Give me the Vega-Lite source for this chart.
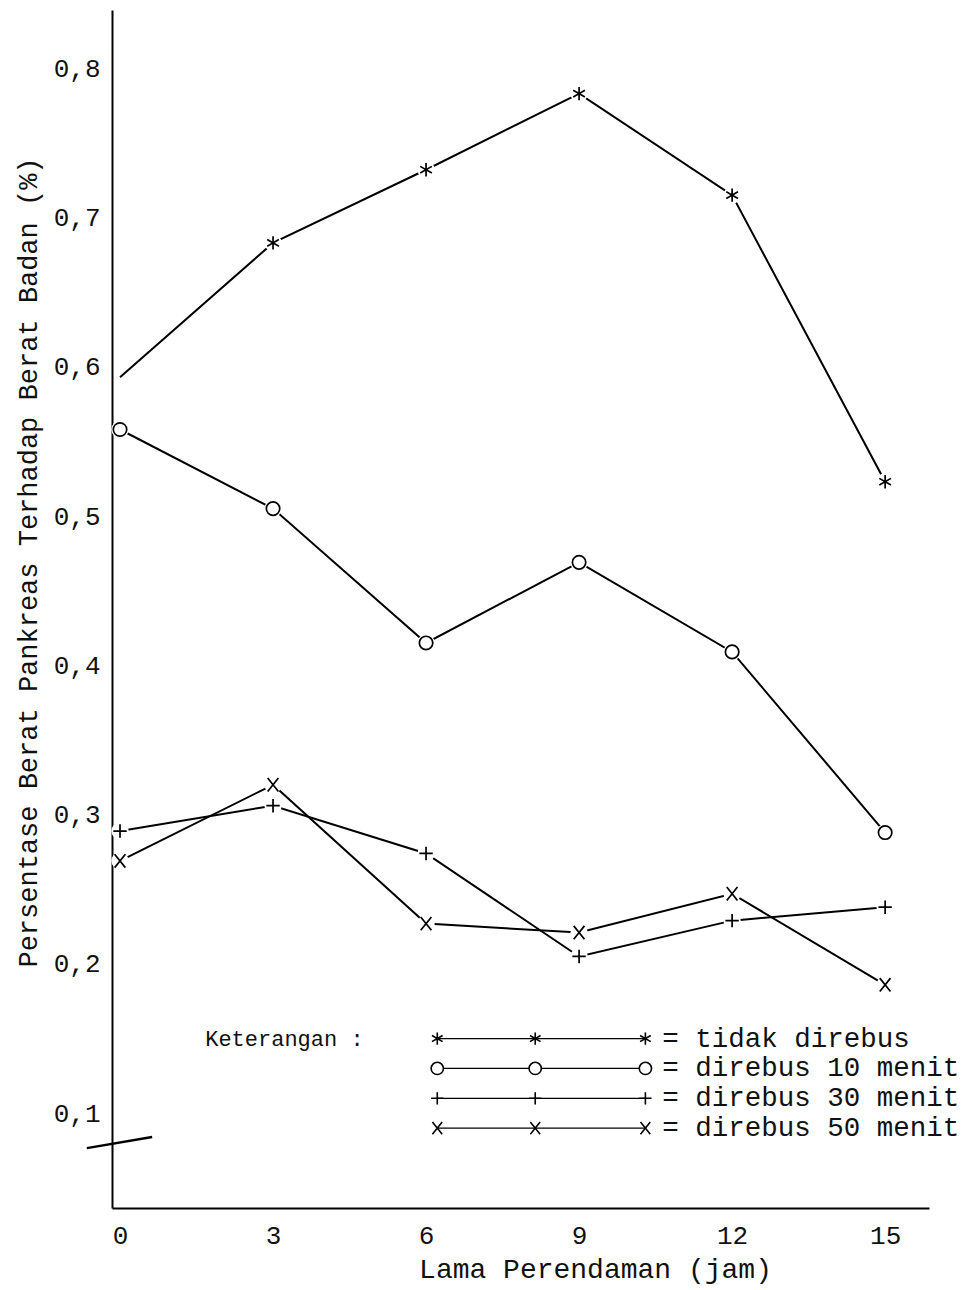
{
  "$schema": "https://vega.github.io/schema/vega-lite/v6.json",
  "width": 817,
  "height": 1198,
  "autosize": "none",
  "padding": {"left": 112, "top": 10, "right": 36, "bottom": 82},
  "background": "white",
  "config": {
    "font": "Liberation Mono",
    "view": {"stroke": null},
    "axis": {
      "grid": false,
      "ticks": false,
      "tickSize": 0,
      "domainColor": "#000",
      "domainWidth": 2,
      "labelFont": "Liberation Mono",
      "labelFontSize": 26,
      "labelColor": "#111",
      "labelFontWeight": "normal",
      "titleFont": "Liberation Mono",
      "titleFontWeight": "normal",
      "titleColor": "#111"
    }
  },
  "datasets": {
    "series": [
      {"seri": "tidak direbus", "jam": 0, "persen": 0.593},
      {"seri": "tidak direbus", "jam": 3, "persen": 0.683},
      {"seri": "tidak direbus", "jam": 6, "persen": 0.732},
      {"seri": "tidak direbus", "jam": 9, "persen": 0.783},
      {"seri": "tidak direbus", "jam": 12, "persen": 0.715},
      {"seri": "tidak direbus", "jam": 15, "persen": 0.523},
      {"seri": "direbus 10 menit", "jam": 0, "persen": 0.558},
      {"seri": "direbus 10 menit", "jam": 3, "persen": 0.505},
      {"seri": "direbus 10 menit", "jam": 6, "persen": 0.415},
      {"seri": "direbus 10 menit", "jam": 9, "persen": 0.469},
      {"seri": "direbus 10 menit", "jam": 12, "persen": 0.409},
      {"seri": "direbus 10 menit", "jam": 15, "persen": 0.288},
      {"seri": "direbus 30 menit", "jam": 0, "persen": 0.289},
      {"seri": "direbus 30 menit", "jam": 3, "persen": 0.306},
      {"seri": "direbus 30 menit", "jam": 6, "persen": 0.274},
      {"seri": "direbus 30 menit", "jam": 9, "persen": 0.205},
      {"seri": "direbus 30 menit", "jam": 12, "persen": 0.229},
      {"seri": "direbus 30 menit", "jam": 15, "persen": 0.238},
      {"seri": "direbus 50 menit", "jam": 0, "persen": 0.269},
      {"seri": "direbus 50 menit", "jam": 3, "persen": 0.320},
      {"seri": "direbus 50 menit", "jam": 6, "persen": 0.227},
      {"seri": "direbus 50 menit", "jam": 9, "persen": 0.221},
      {"seri": "direbus 50 menit", "jam": 12, "persen": 0.247},
      {"seri": "direbus 50 menit", "jam": 15, "persen": 0.186}
    ],
    "legend_sym": [
      {"seri": "tidak direbus", "jam": 6.22, "persen": 0.150},
      {"seri": "tidak direbus", "jam": 8.14, "persen": 0.150},
      {"seri": "tidak direbus", "jam": 10.3, "persen": 0.150},
      {"seri": "direbus 10 menit", "jam": 6.22, "persen": 0.130},
      {"seri": "direbus 10 menit", "jam": 8.14, "persen": 0.130},
      {"seri": "direbus 10 menit", "jam": 10.3, "persen": 0.130},
      {"seri": "direbus 30 menit", "jam": 6.22, "persen": 0.110},
      {"seri": "direbus 30 menit", "jam": 8.14, "persen": 0.110},
      {"seri": "direbus 30 menit", "jam": 10.3, "persen": 0.110},
      {"seri": "direbus 50 menit", "jam": 6.22, "persen": 0.090},
      {"seri": "direbus 50 menit", "jam": 8.14, "persen": 0.090},
      {"seri": "direbus 50 menit", "jam": 10.3, "persen": 0.090}
    ],
    "legend_title": [
      {"txt": "Keterangan :", "jam": 1.67, "persen": 0.150}
    ],
    "legend_text": [
      {"txt": "= tidak direbus", "jam": 10.63, "persen": 0.150},
      {"txt": "= direbus 10 menit", "jam": 10.63, "persen": 0.130},
      {"txt": "= direbus 30 menit", "jam": 10.63, "persen": 0.110},
      {"txt": "= direbus 50 menit", "jam": 10.63, "persen": 0.090}
    ],
    "axis_break": [
      {"jam": -0.65, "persen": 0.0766},
      {"jam": 0.63, "persen": 0.084}
    ]
  },
  "encoding": {
    "x": {
      "field": "jam", "type": "quantitative",
      "scale": {"domain": [-0.157, 15.86], "nice": false, "zero": false},
      "axis": {
        "title": "Lama Perendaman (jam)",
        "titleFontSize": 28,
        "values": [0, 3, 6, 9, 12, 15],
        "labelPadding": 14,
        "titleX": 483,
        "titleY": 47,
        "titleBaseline": "top"
      }
    },
    "y": {
      "field": "persen", "type": "quantitative",
      "scale": {"domain": [0.0365, 0.839], "nice": false, "zero": false},
      "axis": {
        "title": "Persentase Berat Pankreas Terhadap Berat Badan (%)",
        "titleFontSize": 27,
        "values": [0.1, 0.2, 0.3, 0.4, 0.5, 0.6, 0.7, 0.8],
        "labelExpr": "replace(format(datum.value, '.1f'), '.', ',')",
        "labelPadding": 12,
        "titleX": -70,
        "titleY": 552,
        "titleBaseline": "bottom"
      }
    }
  },
  "layer": [
    {
      "data": {"name": "series"},
      "mark": {"type": "line", "color": "#000", "strokeWidth": 2},
      "encoding": {
        "detail": {"field": "seri", "type": "nominal"}
      }
    },
    {
      "data": {"name": "series"},
      "transform": [{"filter": "datum.jam > 0 || datum.seri != 'tidak direbus'"}],
      "mark": {"type": "point", "shape": "circle", "filled": true, "color": "white", "opacity": 1, "size": 300},
      "encoding": {}
    },
    {
      "data": {"name": "series"},
      "transform": [{"filter": "datum.jam > 0 || datum.seri != 'tidak direbus'"}],
      "mark": {"type": "point", "filled": false, "stroke": "#000", "strokeWidth": 1.7, "fill": "white", "fillOpacity": 1, "size": 180},
      "encoding": {
        "shape": {
          "field": "seri", "type": "nominal",
          "scale": {
            "domain": ["tidak direbus", "direbus 10 menit", "direbus 30 menit", "direbus 50 menit"],
            "range": [
              "M0,-1L0,1M-0.87,-0.5L0.87,0.5M-0.87,0.5L0.87,-0.5",
              "circle",
              "M-1,0L1,0M0,-1L0,1",
              "M-0.8,-1L0.8,1M-0.8,1L0.8,-1"
            ]
          },
          "legend": null
        }
      }
    },
    {
      "data": {"name": "legend_sym"},
      "mark": {"type": "line", "color": "#000", "strokeWidth": 1.2},
      "encoding": {
        "detail": {"field": "seri", "type": "nominal"}
      }
    },
    {
      "data": {"name": "legend_sym"},
      "mark": {"type": "point", "filled": false, "stroke": "#000", "strokeWidth": 1.6, "fill": "white", "fillOpacity": 1, "size": 150},
      "encoding": {
        "shape": {"field": "seri", "type": "nominal", "legend": null}
      }
    },
    {
      "data": {"name": "legend_title"},
      "mark": {"type": "text", "align": "left", "baseline": "middle", "font": "Liberation Mono", "fontSize": 22, "color": "#111"},
      "encoding": {
        "text": {"field": "txt", "type": "nominal"}
      }
    },
    {
      "data": {"name": "legend_text"},
      "mark": {"type": "text", "align": "left", "baseline": "middle", "font": "Liberation Mono", "fontSize": 27.5, "color": "#111"},
      "encoding": {
        "text": {"field": "txt", "type": "nominal"}
      }
    },
    {
      "data": {"name": "axis_break"},
      "mark": {"type": "line", "color": "#000", "strokeWidth": 2.5},
      "encoding": {}
    }
  ]
}
